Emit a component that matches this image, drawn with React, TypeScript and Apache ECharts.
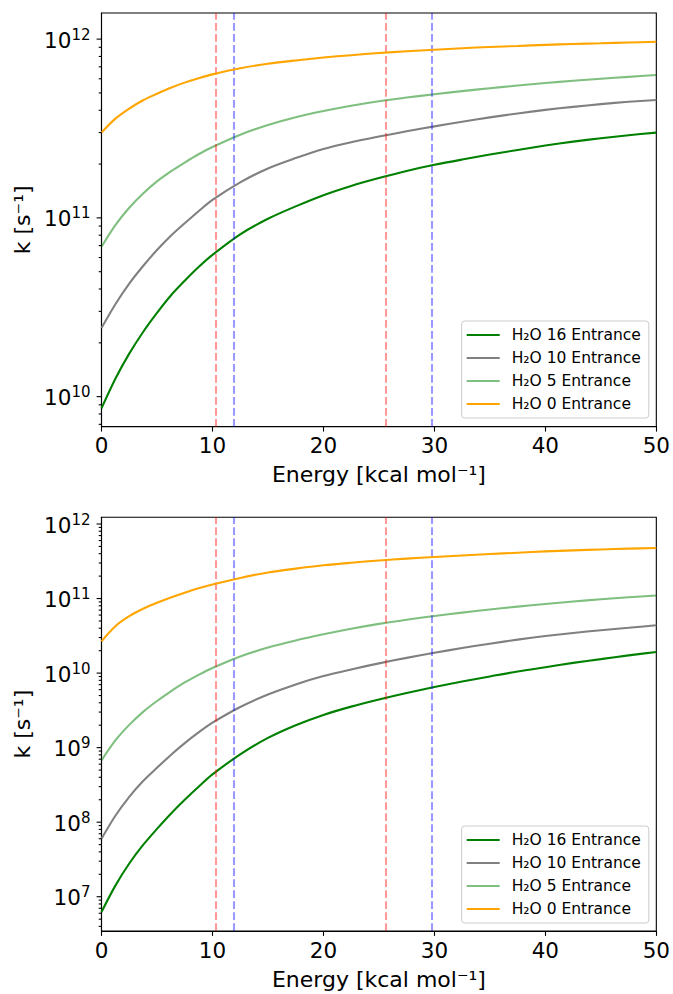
import React, { useEffect, useRef } from 'react';
import * as echarts from 'echarts';

const FONT = 'DejaVu Sans';

// Energy grid (kcal/mol)
const energies = [0, 1.25, 2.5, 3.75, 5, 6.25, 7.5, 8.75, 10, 12.5, 15, 17.5, 20, 22.5, 25, 27.5, 30, 32.5, 35, 37.5, 40, 42.5, 45, 47.5, 50];

const seriesNames = ['H₂O 16 Entrance', 'H₂O 10 Entrance', 'H₂O 5 Entrance', 'H₂O 0 Entrance'];
const seriesColors = ['#008000', '#808080', 'rgba(0,128,0,0.5)', '#ffa500'];

// Top panel rate constants k [s^-1]
const topH2O16 = [8.61e9, 1.26e10, 1.74e10, 2.3e10, 2.94e10, 3.68e10, 4.45e10, 5.31e10, 6.21e10, 8.09e10, 9.89e10, 1.16e11, 1.34e11, 1.51e11, 1.67e11, 1.83e11, 1.98e11, 2.12e11, 2.26e11, 2.4e11, 2.54e11, 2.67e11, 2.79e11, 2.9e11, 3.0e11];
const topH2O10 = [2.42e10, 3.29e10, 4.29e10, 5.38e10, 6.61e10, 7.94e10, 9.33e10, 1.09e11, 1.26e11, 1.58e11, 1.89e11, 2.16e11, 2.43e11, 2.65e11, 2.85e11, 3.05e11, 3.25e11, 3.45e11, 3.65e11, 3.84e11, 4.02e11, 4.18e11, 4.33e11, 4.46e11, 4.57e11];
const topH2O5 = [6.9e10, 9.12e10, 1.14e11, 1.37e11, 1.6e11, 1.82e11, 2.04e11, 2.27e11, 2.49e11, 2.92e11, 3.31e11, 3.66e11, 3.96e11, 4.24e11, 4.49e11, 4.71e11, 4.92e11, 5.12e11, 5.31e11, 5.5e11, 5.68e11, 5.85e11, 6.0e11, 6.15e11, 6.3e11];
const topH2O0 = [3.0e11, 3.59e11, 4.09e11, 4.55e11, 4.95e11, 5.35e11, 5.71e11, 6.04e11, 6.35e11, 6.87e11, 7.28e11, 7.6e11, 7.89e11, 8.13e11, 8.36e11, 8.55e11, 8.73e11, 8.89e11, 9.04e11, 9.16e11, 9.29e11, 9.4e11, 9.48e11, 9.57e11, 9.66e11];

// Bottom panel rate constants k [s^-1]
const botH2O16 = [6.24e6, 1.41e7, 2.79e7, 4.95e7, 8.13e7, 1.3e8, 2.0e8, 2.99e8, 4.37e8, 8.13e8, 1.35e9, 2.0e9, 2.75e9, 3.55e9, 4.42e9, 5.4e9, 6.5e9, 7.71e9, 9.02e9, 1.05e10, 1.2e10, 1.37e10, 1.54e10, 1.73e10, 1.92e10];
const botH2O10 = [6.0e7, 1.22e8, 2.19e8, 3.57e8, 5.37e8, 7.98e8, 1.15e9, 1.6e9, 2.16e9, 3.51e9, 5.15e9, 7.05e9, 9.12e9, 1.12e10, 1.35e10, 1.6e10, 1.87e10, 2.17e10, 2.48e10, 2.81e10, 3.14e10, 3.45e10, 3.76e10, 4.06e10, 4.38e10];
const botH2O5 = [6.76e8, 1.25e9, 2.02e9, 3.02e9, 4.22e9, 5.7e9, 7.5e9, 9.48e9, 1.17e10, 1.67e10, 2.2e10, 2.74e10, 3.31e10, 3.93e10, 4.57e10, 5.2e10, 5.83e10, 6.47e10, 7.13e10, 7.8e10, 8.45e10, 9.12e10, 9.77e10, 1.04e11, 1.1e11];
const botH2O0 = [2.67e10, 4.25e10, 5.79e10, 7.29e10, 8.79e10, 1.035e11, 1.2e11, 1.37e11, 1.54e11, 1.89e11, 2.24e11, 2.52e11, 2.79e11, 3.02e11, 3.24e11, 3.43e11, 3.61e11, 3.78e11, 3.95e11, 4.12e11, 4.29e11, 4.43e11, 4.56e11, 4.67e11, 4.76e11];

// Vertical reference lines (kcal/mol)
const redLines = [10.28, 25.58];
const blueLines = [11.9, 29.72];

// Axis ranges
const xRange = [0, 50];
const xInterval = 10;
const topYRange = [6.79e9, 1.4e12];
const botYRange = [3.47e6, 1.23e12];

const panels = [
  { data: [topH2O16, topH2O10, topH2O5, topH2O0], yRange: topYRange },
  { data: [botH2O16, botH2O10, botH2O5, botH2O0], yRange: botYRange },
];

function yTickValues(min: number, max: number) {
  const out: number[][] = [];
  for (let d = Math.floor(Math.log10(min)); d <= Math.ceil(Math.log10(max)); d++) {
    for (let m = 1; m <= 9; m++) {
      const v = m * Math.pow(10, d);
      if (v >= min && v <= max) out.push([0, v, m === 1 ? 1 : 0]);
    }
  }
  return out;
}

export default function App() {
  const ref = useRef<HTMLDivElement>(null);

  useEffect(() => {
    if (!ref.current) return;
    const chart = echarts.init(ref.current, undefined, { renderer: 'svg' });

    const gridTops = [13, 517.3];
    const gridH = 413.7;
    const legendTops = [321, 826];

    const series: any[] = [];
    panels.forEach((p, pi) => {
      p.data.forEach((vals, si) => {
        const s: any = {
          type: 'line',
          name: seriesNames[si],
          xAxisIndex: pi,
          yAxisIndex: pi,
          data: energies.map((e, i) => [e, vals[i]]),
          showSymbol: false,
          symbol: 'none',
          smooth: 0.3,
          itemStyle: { color: seriesColors[si] },
          lineStyle: { color: seriesColors[si], width: 2.08 },
          z: 2 + si,
        };
        if (si === p.data.length - 1) {
          s.markLine = {
            silent: true,
            symbol: ['none', 'none'],
            label: { show: false },
            emphasis: { disabled: true },
            data: [
              ...redLines.map((x) => ({ xAxis: x, lineStyle: { color: 'rgba(255,0,0,0.4)', type: [7.7, 3.3], width: 2.08 } })),
              ...blueLines.map((x) => ({ xAxis: x, lineStyle: { color: 'rgba(0,0,255,0.4)', type: [7.7, 3.3], width: 2.08 } })),
            ],
          };
        }
        series.push(s);
      });
      series.push({
        type: 'custom',
        xAxisIndex: pi,
        yAxisIndex: pi,
        silent: true,
        clip: false,
        z: 10,
        data: yTickValues(p.yRange[0], p.yRange[1]),
        renderItem: (params: any, api: any) => {
          const pt = api.coord([api.value(0), api.value(1)]);
          const len = api.value(2) ? 4.9 : 2.8;
          return {
            type: 'line',
            shape: { x1: pt[0] - len, y1: pt[1], x2: pt[0], y2: pt[1] },
            style: { stroke: '#000', lineWidth: 1.1 },
          };
        },
      });
    });

    const option: any = {
      animation: false,
      backgroundColor: '#fff',
      grid: gridTops.map((t) => ({
        left: 101.5,
        top: t,
        width: 555.5,
        height: gridH,
        show: true,
        borderColor: '#000',
        borderWidth: 1.1,
        backgroundColor: 'transparent',
      })),
      xAxis: [0, 1].map((i) => ({
        type: 'value',
        gridIndex: i,
        min: xRange[0],
        max: xRange[1],
        interval: xInterval,
        name: 'Energy [kcal mol⁻¹]',
        nameLocation: 'middle',
        nameGap: 37,
        nameTextStyle: { fontSize: 22, fontFamily: FONT, color: '#000' },
        axisLine: { show: true, onZero: false, lineStyle: { color: '#000', width: 1.1 } },
        axisTick: { show: true, length: 4.9, lineStyle: { color: '#000', width: 1.1 } },
        axisLabel: { fontSize: 21.5, fontFamily: FONT, color: '#000', margin: 8 },
        splitLine: { show: false },
      })),
      yAxis: panels.map((p, i) => ({
        type: 'log',
        logBase: 10,
        gridIndex: i,
        min: p.yRange[0],
        max: p.yRange[1],
        name: 'k [s⁻¹]',
        nameLocation: 'middle',
        nameGap: 65,
        nameTextStyle: { fontSize: 22, fontFamily: FONT, color: '#000' },
        axisLine: { show: true, onZero: false, lineStyle: { color: '#000', width: 1.1 } },
        axisTick: { show: false },
        splitLine: { show: false },
        minorTick: { show: false },
        axisLabel: {
          showMinLabel: false,
          showMaxLabel: false,
          margin: 11,
          formatter: (v: number) => {
            const e = Math.log10(v);
            if (Math.abs(e - Math.round(e)) > 1e-6) return '';
            return '{b|10}{s|' + Math.round(e) + '}';
          },
          rich: {
            b: { fontSize: 21.5, fontFamily: FONT, color: '#000', lineHeight: 24, verticalAlign: 'bottom' },
            s: { fontSize: 15, fontFamily: FONT, color: '#000', lineHeight: 15, verticalAlign: 'top' },
          },
        },
      })),
      legend: legendTops.map((t) => ({
        data: seriesNames,
        orient: 'vertical',
        left: 461.7,
        top: t,
        padding: [6, 8, 6, 5],
        itemGap: 7,
        itemWidth: 33,
        itemHeight: 2,
        icon: 'rect',
        borderColor: '#cccccc',
        borderWidth: 1,
        borderRadius: 3,
        backgroundColor: 'rgba(255,255,255,0.8)',
        selectedMode: false,
        textStyle: { fontSize: 15.5, fontFamily: FONT, color: '#000', lineHeight: 16, padding: [0, 0, 0, 7] },
      })),
      series,
    };

    chart.setOption(option);
    return () => chart.dispose();
  }, []);

  return (
    <div
      ref={ref}
      style={{ position: 'absolute', left: 0, top: 0, width: 673, height: 994, background: '#fff' }}
    />
  );
}
